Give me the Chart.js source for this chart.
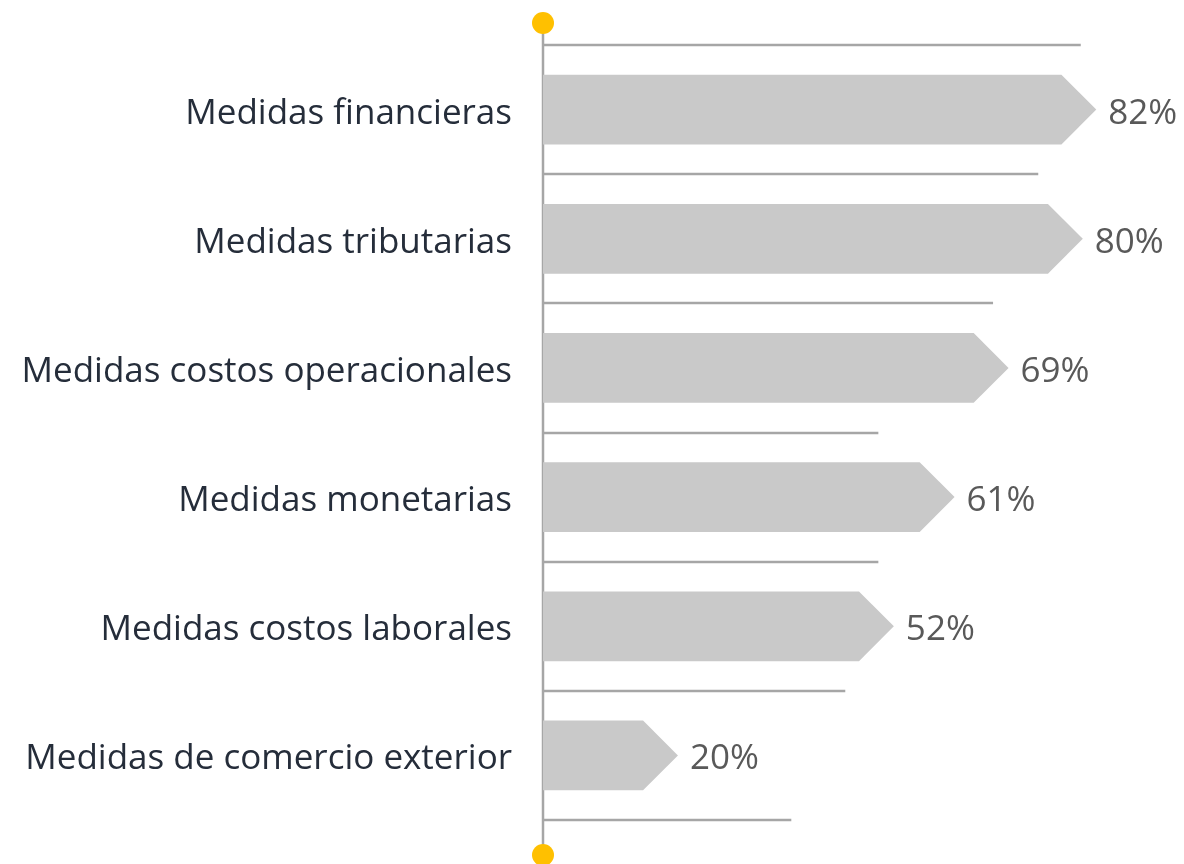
<!DOCTYPE html>
<html>
<head>
<meta charset="utf-8">
<script src="https://cdn.jsdelivr.net/npm/chart.js@4"></script>
<style>
  body { margin: 0; background: #fff; }
  #wrap { width: 1184px; height: 864px; }
</style>
</head>
<body>
<div id="wrap"><canvas id="medidas"></canvas></div>
<script>
var categories = ['Medidas financieras', 'Medidas tributarias', 'Medidas costos operacionales',
    'Medidas monetarias', 'Medidas costos laborales', 'Medidas de comercio exterior'];
var values = [82, 80, 69, 61, 52, 20];
// lengths of the grey separator lines between rows, in % units
var separatorLengths = [79.7, 73.4, 66.7, 49.7, 49.7, 44.8, 36.8];

var FONT = "'Segoe UI', 'Open Sans', sans-serif";

var arrowBars = {
    id: 'arrowBars',
    beforeDatasetsDraw: function (chart) {
        var ctx = chart.ctx, area = chart.chartArea;
        var x = chart.scales.x, y = chart.scales.y;
        ctx.save();
        ctx.strokeStyle = '#A6A6A6';
        ctx.lineWidth = 2.5;
        separatorLengths.forEach(function (len, i) {
            var py = Math.round(y.getPixelForValue(i - 0.5));
            ctx.beginPath();
            ctx.moveTo(x.getPixelForValue(0), py);
            ctx.lineTo(x.getPixelForValue(len), py);
            ctx.stroke();
        });
        // vertical axis with yellow end dots
        var ax = x.getPixelForValue(0);
        var top = area.top - 22, bottom = area.bottom + 35;
        ctx.beginPath();
        ctx.moveTo(ax, top);
        ctx.lineTo(ax, bottom);
        ctx.stroke();
        ctx.fillStyle = '#FFC000';
        [top, bottom].forEach(function (py) {
            ctx.beginPath();
            ctx.arc(ax, py, 11, 0, Math.PI * 2);
            ctx.fill();
        });
        ctx.restore();
    },
    beforeDatasetDraw: function () {
        return false;
    },
    afterDatasetsDraw: function (chart) {
        var ctx = chart.ctx;
        var meta = chart.getDatasetMeta(0);
        ctx.save();
        meta.data.forEach(function (bar, i) {
            var half = bar.height / 2;
            ctx.fillStyle = '#C9C9C9';
            ctx.beginPath();
            ctx.moveTo(bar.base, bar.y - half);
            ctx.lineTo(bar.x - half, bar.y - half);
            ctx.lineTo(bar.x, bar.y);
            ctx.lineTo(bar.x - half, bar.y + half);
            ctx.lineTo(bar.base, bar.y + half);
            ctx.closePath();
            ctx.fill();

            ctx.fillStyle = '#595959';
            ctx.font = '35px ' + FONT;
            ctx.textAlign = 'left';
            ctx.textBaseline = 'middle';
            ctx.fillText(values[i] + '%', bar.x + 12, bar.y + 4);
        });
        ctx.restore();
    }
};

var ctx = document.getElementById('medidas').getContext('2d');
var myChart = new Chart(ctx, {
    type: 'bar',
    data: {
        labels: categories,
        datasets: [{
            label: 'Medidas',
            data: values,
            backgroundColor: '#C9C9C9',
            barPercentage: 0.54,
            categoryPercentage: 1
        }]
    },
    options: {
        indexAxis: 'y',
        responsive: true,
        maintainAspectRatio: false,
        animation: false,
        layout: { padding: { top: 45, bottom: 44, left: 0, right: 0 } },
        plugins: {
            legend: { display: false },
            tooltip: { enabled: false }
        },
        scales: {
            x: { display: false, min: 0, max: 95 },
            y: {
                grid: { display: false, drawTicks: false },
                border: { display: false },
                ticks: {
                    color: '#252D3A',
                    padding: 31,
                    labelOffset: 4,
                    font: { family: FONT, size: 35 }
                },
                afterFit: function (scale) {
                    scale.width = 543;
                    scale.paddingTop = 0;
                    scale.paddingBottom = 0;
                }
            }
        }
    },
    plugins: [arrowBars]
});
</script>
</body>
</html>
